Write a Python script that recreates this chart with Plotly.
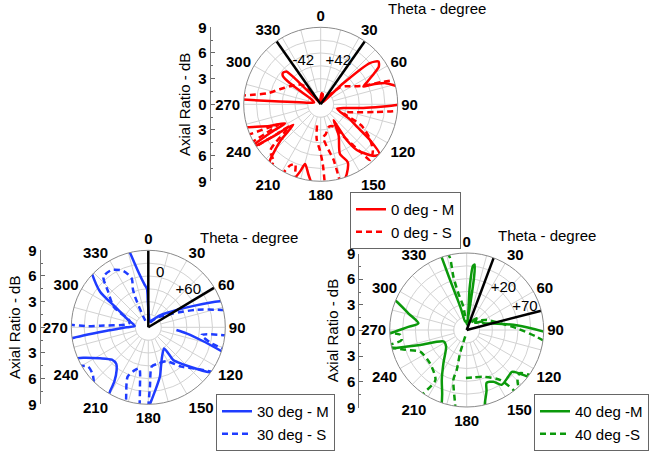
import plotly.graph_objects as go

# ---------------- data (theta in degrees clockwise from top, AR in dB) ----------------
# None separates pieces of a curve (the curve leaves the 9 dB circle)
top_m = [(340,0.3),(355,0.5),(5,1.3),(12,1.2),(18,0.4),(30,0.3),(44,0.4),(47,3.6),(50,7.5),(53.5,8.4),(57,8.1),
         (60,7.2),(64,6.1),(67.5,5.4),(68.6,6.2),(72,8.0),(76.4,9.1),(78,9.6),None,
         (89,9.6),(90.5,8.9),(95,5.0),(98.7,2.9),(105,2.0),(110.8,2.4),(117,3.8),(121.8,5.0),(125.9,7.1),(130.2,9.0),
         (133,8.8),(135.8,8.3),(141.7,6.8),(143.9,5.2),(142.3,3.0),(141,2.4),(150,4.2),(158.8,6.2),(155,7.5),
         (159.5,8.7),(164.6,9.7),None,
         (186.4,9.4),(190,8.3),(194.7,7.2),(197,8.2),(200.4,9.7),None,
         (220,9.4),(222,8.9),(228,6.3),(233.3,4.0),(236,6.8),(237.5,9.4),None,
         (238.5,9.4),(238.9,9.0),(240.5,6.8),(242,4.7),(247,6.5),(252.4,8.9),(253,9.5),None,
         (273.5,9.5),(273.8,4.8),(276,2.0),(285,0.8),(298,1.2),(303,3.0),(304.4,4.3),(306.7,5.5),(310,5.75),
         (313.9,5.5),(315,4.2),(315.5,2.9),(318,1.0),(330,0.3),(340,0.3)]
top_s = [(350,0.5),(10,0.6),(30,0.5),(40,1.0),(48.6,3.0),(55,3.7),(60,4.2),(66.4,5.4),(70,7.6),(72.5,9.7),None,
         (93,9.6),(94.8,9.0),(98,6.5),(103.8,3.9),(110,2.8),(117.6,5.4),(125,7.0),(132,8.2),(138.4,8.7),(140,7.3),
         (145,4.5),(150,3.0),(160,2.8),(170,3.5),(175.5,3.9),(170,5.5),(167,6.6),(166,9.5),None,
         (190,2.5),(186.6,4.1),(180.9,5.4),(178,7.0),(177,9.5),None,
         (198,9.5),(199.8,8.9),(203,7.6),(206.6,8.0),(209,9.5),None,
         (218,9.5),(220,8.6),(227.5,8.0),(235,4.5),(236,6.5),(237,9.4),None,
         (241,9.4),(242,7.5),(244.5,5.5),(247.2,9.0),(248,9.5),None,
         (276,9.5),(277.5,8.3),(281.5,6.4),(290.2,5.1),(300,4.2),(315.5,3.2),(320,1.5),(330,0.5),(350,0.5)]

bl_m = [(346,9.2),(350,6.5),(355,5.0),(358,4.5),(359,3.0),(2,1.5),(15,0.7),(30,1.0),(45,2.0),(58.7,3.9),(65,6.0),
        (70,8.9),(72,10),None,
        (108.4,9.3),(104,6.5),(99,4.5),(95.4,3.3),None,
        (124,9.5),(126.3,8.9),(133,6.8),(140,5.3),(142.6,4.8),(143.3,3.1),(155,3.8),(162,4.8),(166.7,5.9),(174,7.5),
        (178.8,9.0),(180,9.5),None,
        (247,9.3),(245,8.4),(237.3,6.7),(228.3,5.7),(221,5.7),(216.6,6.2),(212,7.5),(210.8,8.75),(210,9.5),None,
        (261,9.5),(261.8,9.0),(265,5.0),(270,2.5),(276,1.6),(290,2.5),(301,4.3),(306.4,7.0),(313.6,9.1),(315,9.5)]
bl_s = [(20,0.6),(40,1.4),(50,2.0),(60.8,3.3),(70,6.0),(76.7,8.8),(78,9.4),None,
        (95.8,9.3),(98.2,6.3),(104,7.5),(106,9.3),None,
        (124.3,9.3),(129.1,7.8),(140,6.0),(151.9,4.5),(165,4.4),(175,4.6),(178.4,6.9),(180,9.3),None,
        (186.3,9.3),(188,7.0),(192.4,4.9),(197,5.2),(202.7,6.25),(197,8.9),(196.5,9.4),None,
        (241,9.3),(236.8,8.4),(230,8.5),(224.5,9.1),(223,9.5),None,
        (272,9.3),(271,7.0),(272,5.6),(278,2.5),(287,2.2),(300.6,4.7),(311.7,6.3),(318.4,7.9),(327.4,7.95),
        (336.2,7.2),(341.2,6.0),(338,4.8),(336.5,3.9),(335,1.4),(340,0.4)]

br_m = [(341,9.1),(341.5,6.5),(343,4.0),(345,2.5),(350,1.0),(2,1.0),(4,5.0),(5.5,7.5),(7,7.7),(8,6.0),(8,3.0),
        (10,1.0),(30,1.2),(40,1.8),(50,1.3),(60,2.0),(68,2.1),(76,3.2),(85,6.0),(91.2,9.0),(92,9.5),None,
        (126,9.5),(127.1,9.1),(131,7.5),(132.8,7.2),(138.2,7.3),(147.5,7.6),(152.7,6.8),(159.4,6.6),(162,7.5),
        (166,8.8),(167,9.5),None,
        (198.5,9.5),(198.8,9.1),(201,8.0),(206.6,6.5),(215,4.75),(231,3.1),(243.4,3.0),(252.2,5.7),(256,8.8),
        (256.5,9.5),None,
        (267,9.5),(267.5,9.0),(272.5,7.0),(277.9,5.7),(286,7.1),(292,8.8),(293,9.5)]
br_s = [(346,9.3),(347,8.6),(346,6.4),(347.2,4.4),(351.9,2.75),(356,1.0),(10,0.6),(37.5,1.3),(63.4,2.6),
        (78.6,4.0),(88,5.85),(95.5,8.2),(97.8,9.0),(98.5,9.5),None,
        (125,9.4),(125.4,9.1),(129,8.0),(135,8.4),(139,9.4),None,
        (142,9.4),(142.1,8.9),(146.3,7.0),(160.3,5.8),(172,5.6),(184,5.65),None,
        (188,9.5),(189,8.7),(195,6.0),(194,4.8),(196,2.8),(190,0.5),None,
        (214.8,9.5),(214.4,9.0),(212,6.9),(227.7,5.8),(245,6.0),(252,7.5),(258,9.4),None,
        (259,9.4),(261.3,7.7),(266,7.8),(268,9.4)]

# black theta-boundary lines (phi) and their labels
top_bounds = [325, 35]
bl_bounds = [0, 59]
br_bounds = [20.5, 75.5]
top_marks = [("-42", 337.8, 5.4), ("+42", 22.4, 5.4)]
bl_marks = [("0", 12.2, 6.5), ("+60", 47, 6.4)]
br_marks = [("+20", 41.3, 6.5), ("+70", 68.7, 7.3)]

angle_ticks = list(range(0, 360, 15))
angle_labels = [str(a) if a % 30 == 0 else "" for a in angle_ticks]
ar_ticks = [-9, -6, -3, 0, 3, 6, 9]
ar_labels = ["9", "6", "3", "0", "3", "6", "9"]
AR_MAX = 9
HOLE_R = 1.5

RED, BLUE, GREEN = "#ff0000", "#1f3cff", "#0b990b"
GRID = "#d2d2d2"
FONT = "Liberation Sans, Arial, sans-serif"


def split(pts):
    th = [p[0] if p else None for p in pts]
    rr = [p[1] if p else None for p in pts]
    return th, rr


fig = go.Figure()

panels = [
    dict(sub="polar", xa="x", ya="y", leg="legend", m=top_m, s=top_s, col=RED,
         names=("0 deg - M", "0 deg - S"), bounds=top_bounds, marks=top_marks),
    dict(sub="polar2", xa="x2", ya="y2", leg="legend2", m=bl_m, s=bl_s, col=BLUE,
         names=("30 deg - M", "30 deg - S"), bounds=bl_bounds, marks=bl_marks),
    dict(sub="polar3", xa="x3", ya="y3", leg="legend3", m=br_m, s=br_s, col=GREEN,
         names=("40 deg -M", "40 deg -S"), bounds=br_bounds, marks=br_marks),
]

hole_theta = list(range(0, 361, 5))
for p in panels:
    # white centre disc (grid spokes start at the first ring)
    fig.add_trace(go.Scatterpolar(theta=hole_theta, r=[HOLE_R] * len(hole_theta), mode="lines",
                                  fill="toself", fillcolor="white", line=dict(color=GRID, width=1),
                                  subplot=p["sub"], showlegend=False, hoverinfo="skip"))
    th, rr = split(p["m"])
    fig.add_trace(go.Scatterpolar(theta=th, r=rr, mode="lines", name=p["names"][0],
                                  line=dict(color=p["col"], width=2.5, shape="spline", smoothing=0.7),
                                  subplot=p["sub"], legend=p["leg"]))
    th, rr = split(p["s"])
    fig.add_trace(go.Scatterpolar(theta=th, r=rr, mode="lines", name=p["names"][1],
                                  line=dict(color=p["col"], width=2.5, dash="6px,4px", shape="spline",
                                            smoothing=0.7),
                                  subplot=p["sub"], legend=p["leg"]))
    for b in p["bounds"]:
        fig.add_trace(go.Scatterpolar(theta=[b, b], r=[0, AR_MAX], mode="lines",
                                      line=dict(color="black", width=2.5), subplot=p["sub"],
                                      showlegend=False, hoverinfo="skip"))
    fig.add_trace(go.Scatterpolar(theta=[m[1] for m in p["marks"]], r=[m[2] for m in p["marks"]],
                                  text=[m[0] for m in p["marks"]], mode="text",
                                  textfont=dict(size=15, color="black", family=FONT),
                                  subplot=p["sub"], showlegend=False, hoverinfo="skip"))
    # carrier for the mirrored AR axis
    fig.add_trace(go.Scatter(x=[None], y=[None], xaxis=p["xa"], yaxis=p["ya"], showlegend=False,
                             hoverinfo="skip"))


def polar_cfg(cx, cy, R=77):
    return dict(
        domain=dict(x=[(cx - R) / 652, (cx + R) / 652], y=[(452 - cy - R) / 452, (452 - cy + R) / 452]),
        bgcolor="white",
        angularaxis=dict(rotation=90, direction="clockwise", tickmode="array", tickvals=angle_ticks,
                         ticktext=angle_labels, showline=True, linecolor="#8a8a8a", linewidth=1,
                         gridcolor=GRID, gridwidth=1, ticks="",
                         tickfont=dict(size=15, weight="bold", color="black", family=FONT)),
        radialaxis=dict(range=[0, AR_MAX], tick0=0, dtick=HOLE_R, showticklabels=False, ticks="",
                        showline=False, gridcolor=GRID, gridwidth=1),
    )


def yaxis_cfg(cy, R=77):
    return dict(domain=[(452 - cy - R) / 452, (452 - cy + R) / 452], range=[-AR_MAX, AR_MAX],
                tickmode="array", tickvals=ar_ticks, ticktext=ar_labels, ticks="inside", ticklen=4,
                tickcolor="#666", minor=dict(tickmode="linear", tick0=0, dtick=1.5, ticks="inside",
                                             ticklen=2, tickcolor="#666"),
                showline=True, linecolor="#777", linewidth=1, showgrid=False, zeroline=False,
                tickfont=dict(size=15, weight="bold", color="black", family=FONT),
                title=dict(text="Axial Ratio - dB", font=dict(size=15, color="black", family=FONT),
                           standoff=4),
                automargin=False, fixedrange=True)


def xaxis_cfg(xpos):
    return dict(domain=[xpos / 652, (xpos + 4) / 652], visible=False, fixedrange=True, automargin=False)


def legend_cfg(x, y, yanchor="top"):
    return dict(x=x / 652, y=1 - y / 452, xanchor="left", yanchor=yanchor, bordercolor="#666",
                borderwidth=1, bgcolor="white", font=dict(size=15, color="black", family=FONT),
                tracegroupgap=0, itemwidth=30)


def theta_note(x, y):
    return dict(text="Theta - degree", x=x / 652, y=1 - y / 452, xref="paper", yref="paper",
                xanchor="left", yanchor="middle", showarrow=False,
                font=dict(size=15, color="black", family=FONT))


fig.update_layout(
    width=652, height=452, margin=dict(l=0, r=0, t=0, b=0, autoexpand=False),
    paper_bgcolor="white", plot_bgcolor="rgba(0,0,0,0)",
    font=dict(family=FONT, size=15, color="black"),
    polar=polar_cfg(320.7, 104.3), polar2=polar_cfg(148.3, 327.3), polar3=polar_cfg(466.7, 330.0),
    xaxis=dict(xaxis_cfg(210.7), anchor="y"), yaxis=dict(yaxis_cfg(104.3), anchor="x"),
    xaxis2=dict(xaxis_cfg(40.7), anchor="y2"), yaxis2=dict(yaxis_cfg(327.3), anchor="x2"),
    xaxis3=dict(xaxis_cfg(359.3), anchor="y3"), yaxis3=dict(yaxis_cfg(330.5), anchor="x3"),
    legend=legend_cfg(350, 192), legend2=legend_cfg(216, 451, "bottom"),
    legend3=legend_cfg(534, 451, "bottom"),
    annotations=[theta_note(386, 8.5), theta_note(197.5, 237.3), theta_note(496, 235)],
    showlegend=True,
)

fig.write_html("out.html", config={"displayModeBar": False},
               post_script="document.body.style.margin='0px';")
